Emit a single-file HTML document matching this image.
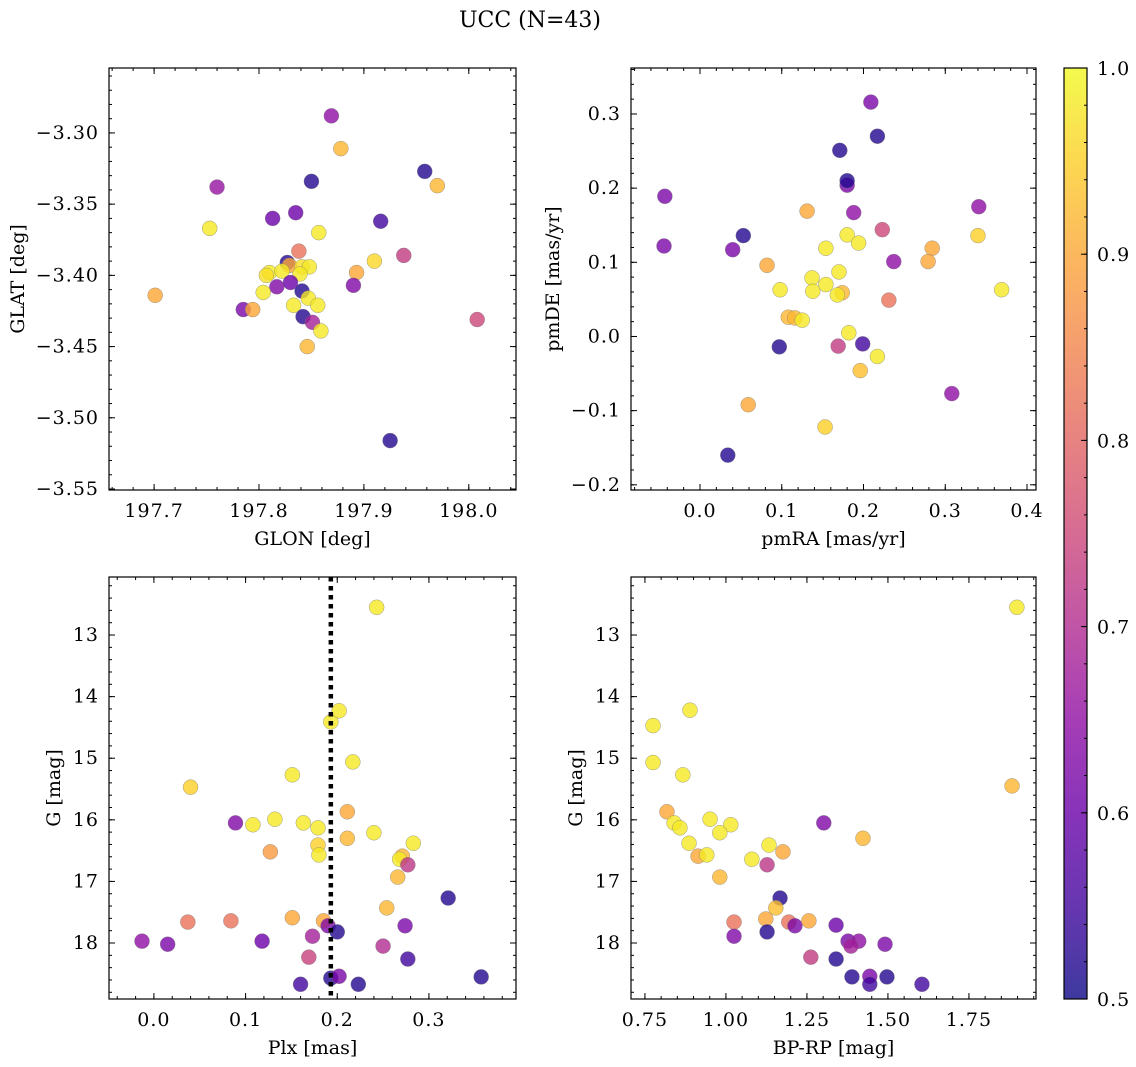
<!DOCTYPE html>
<html><head><meta charset="utf-8">
<style>
html,body{margin:0;padding:0;background:#fff;}
svg{display:block;font-family:"DejaVu Serif","Liberation Serif",serif;}
</style></head>
<body>
<svg id="fig" width="1136" height="1067" viewBox="0 0 1136 1067" xmlns="http://www.w3.org/2000/svg">
<text x="530" y="27" font-size="22" text-anchor="middle">UCC (N=43)</text>
<defs>
<linearGradient id="plasma" x1="0" y1="1" x2="0" y2="0">
<stop offset="0" stop-color="#0d0887"/><stop offset="0.1" stop-color="#41049d"/><stop offset="0.2" stop-color="#6a00a8"/><stop offset="0.3" stop-color="#8f0da4"/><stop offset="0.4" stop-color="#b12a90"/><stop offset="0.5" stop-color="#cc4778"/><stop offset="0.6" stop-color="#e16462"/><stop offset="0.7" stop-color="#f2844b"/><stop offset="0.8" stop-color="#fca636"/><stop offset="0.9" stop-color="#fcce25"/><stop offset="1" stop-color="#f0f921"/>
</linearGradient>
</defs>
<g id="layer"></g>
</svg>
<script>
// ---- data ----
const glon=[197.838,197.827,197.829,197.810,197.807,197.822,197.841,197.848,197.839,197.910,197.893,197.890,197.817,197.830,197.804,197.841,197.847,197.856,197.833,197.785,197.794,197.842,197.851,197.859,197.846,197.869,197.878,197.760,197.850,197.958,197.970,197.753,197.813,197.835,197.916,197.857,197.938,197.701,198.008,197.925];
const glat=[-3.383,-3.391,-3.393,-3.398,-3.400,-3.397,-3.394,-3.394,-3.399,-3.390,-3.398,-3.407,-3.408,-3.405,-3.412,-3.411,-3.416,-3.421,-3.421,-3.424,-3.424,-3.429,-3.433,-3.439,-3.450,-3.288,-3.311,-3.338,-3.334,-3.327,-3.337,-3.367,-3.360,-3.356,-3.362,-3.370,-3.386,-3.414,-3.431,-3.516];
const prob1=[.82,.52,.9,.98,.97,.98,.97,.98,.98,.96,.9,.63,.63,.6,.98,.52,.98,.98,.98,.62,.9,.52,.68,.98,.92,.65,.92,.66,.52,.52,.92,.98,.6,.6,.55,.98,.73,.9,.75,.52];
const pmra=[0.180,-0.043,0.131,0.188,0.053,0.223,0.180,0.194,0.154,-0.044,0.040,0.284,0.082,0.237,0.279,0.170,0.137,0.154,0.098,0.138,0.174,0.168,0.231,0.108,0.116,0.125,0.182,0.097,0.169,0.199,0.217,0.196,0.209,0.217,0.171,0.180,0.341,0.340,0.369,0.308,0.153,0.059,0.034];
const pmde=[0.204,0.189,0.169,0.167,0.136,0.144,0.137,0.126,0.119,0.122,0.117,0.119,0.096,0.101,0.101,0.087,0.079,0.070,0.063,0.061,0.059,0.056,0.049,0.026,0.025,0.022,0.005,-0.014,-0.013,-0.010,-0.027,-0.046,0.316,0.270,0.251,0.210,0.175,0.136,0.063,-0.077,-0.122,-0.092,-0.160];
const prob2=[.62,.62,.9,.65,.52,.75,.98,.98,.98,.62,.62,.9,.9,.65,.9,.98,.98,.98,.98,.98,.92,.98,.82,.92,.92,.98,.98,.52,.73,.55,.98,.93,.62,.52,.52,.52,.65,.95,.98,.65,.95,.9,.52];
const plx=[0.040,0.211,0.089,0.108,0.132,0.163,0.179,0.211,0.240,0.179,0.180,0.127,0.283,0.271,0.268,0.277,0.266,0.321,0.254,0.037,0.084,0.151,0.185,0.190,0.200,0.274,-0.013,0.015,0.118,0.173,0.250,0.169,0.277,0.193,0.202,0.160,0.223,0.357,0.243,0.193,0.202,0.217,0.151];
const gmag3=[15.47,15.87,16.05,16.08,15.99,16.05,16.13,16.30,16.21,16.41,16.57,16.52,16.38,16.59,16.64,16.73,16.93,17.27,17.43,17.66,17.64,17.59,17.64,17.72,17.82,17.72,17.97,18.02,17.97,17.89,18.05,18.23,18.26,18.57,18.54,18.67,18.67,18.55,12.55,14.41,14.23,15.06,15.27];
const prob3=[.95,.9,.63,.98,.98,.98,.98,.92,.98,.95,.98,.88,.98,.92,.98,.72,.92,.52,.92,.82,.82,.9,.9,.63,.52,.62,.65,.62,.6,.68,.7,.74,.55,.52,.62,.55,.52,.52,.98,.98,.98,.98,.98];
const plxLine=[0.193];
const bprp=[0.867,0.775,0.775,0.889,1.898,1.883,0.818,0.840,0.858,0.951,1.015,0.981,0.886,0.914,0.941,0.981,1.080,1.133,1.176,1.127,1.302,1.423,1.167,1.154,1.025,1.123,1.194,1.213,1.256,1.340,1.025,1.127,1.377,1.410,1.386,1.491,1.262,1.340,1.389,1.444,1.444,1.497,1.605];
const gmag4=[15.27,15.07,14.47,14.22,12.55,15.45,15.87,16.05,16.13,15.99,16.08,16.21,16.38,16.59,16.57,16.93,16.64,16.41,16.52,16.73,16.05,16.30,17.27,17.43,17.66,17.61,17.66,17.72,17.64,17.71,17.89,17.82,17.97,17.97,18.05,18.02,18.23,18.26,18.55,18.54,18.67,18.55,18.67];
const prob4=[.98,.98,.98,.98,.98,.92,.9,.98,.98,.98,.98,.98,.98,.9,.98,.92,.98,.98,.9,.72,.63,.92,.52,.93,.82,.9,.82,.62,.9,.6,.63,.52,.62,.65,.68,.62,.73,.52,.52,.62,.55,.52,.55];
const xt1=[197.7,197.8,197.9,198.0], yt1=[-3.30,-3.35,-3.40,-3.45,-3.50,-3.55];
const xt2=[0.0,0.1,0.2,0.3,0.4], yt2=[-0.2,-0.1,0.0,0.1,0.2,0.3];
const xt3=[0.0,0.1,0.2,0.3], yt3=[13,14,15,16,17,18];
const xt4=[0.75,1.00,1.25,1.50,1.75], yt4=[13,14,15,16,17,18];
const cbTicks=[0.5,0.6,0.7,0.8,0.9,1.0];

const NS="http://www.w3.org/2000/svg";
const layer=document.getElementById('layer');
const TF=19, LS=1;
const stops=[[13,8,135],[65,4,157],[106,0,168],[143,13,164],[177,42,144],[204,71,120],[225,100,98],[242,132,75],[252,166,54],[252,206,37],[240,249,33]];
function cmap(p){let t=(p-0.5)/0.5;t=Math.max(0,Math.min(1,t))*10;const i=Math.min(9,Math.floor(t)),f=t-i;const a=stops[i],b=stops[i+1];return 'rgb('+a.map((v,k)=>Math.round(v+(b[k]-v)*f)).join(',')+')';}
function mk(tag,attrs,parent){const e=document.createElementNS(NS,tag);for(const k in attrs)e.setAttribute(k,attrs[k]);(parent||layer).appendChild(e);return e;}
function fmt(v,d){const s=Math.abs(v).toFixed(d);return (v<-1e-9?'\u2212':'')+s;}

function panel(c){
  const g=mk('g',{});
  
  
  const sx=v=>c.x0+(v-c.xa)/(c.xb-c.xa)*(c.x1-c.x0);
  const sy=v=>c.y0+(v-c.ya)/(c.yb-c.ya)*(c.y1-c.y0);
  const pts=mk('g',{},g);
  
  
  for(let i=0;i<c.xs.length;i++){
    const e=mk('circle',{cx:sx(c.xs[i]),cy:sy(c.ys[i]),r:7.5,fill:cmap(c.ps[i]),'fill-opacity':0.8,stroke:'#777','stroke-width':0.5,'stroke-opacity':0.7},pts);
    
    
  }
  if(c.vline){
    const l=mk('line',{x1:sx(c.vline[0]),x2:sx(c.vline[0]),y1:c.y0,y2:c.y1,stroke:'#000','stroke-width':4.5,'stroke-dasharray':'4.5 4.5'},g);
    
    
  }
  const f=mk('rect',{x:c.x0,y:c.y0,width:c.x1-c.x0,height:c.y1-c.y0,fill:'none',stroke:'#000','stroke-width':1.2},g);
  
  
  const tk=mk('g',{stroke:'#000','stroke-width':1},g);
  function xtick(px,len){mk('line',{x1:px,x2:px,y1:c.y1,y2:c.y1-len},tk);mk('line',{x1:px,x2:px,y1:c.y0,y2:c.y0+len},tk);}
  function ytick(py,len){mk('line',{x1:c.x0,x2:c.x0+len,y1:py,y2:py},tk);mk('line',{x1:c.x1,x2:c.x1-len,y1:py,y2:py},tk);}
  const lo=Math.min(c.xa,c.xb),hi=Math.max(c.xa,c.xb);
  for(let k=Math.ceil(lo/c.xm-1e-6);k*c.xm<=hi+1e-9;k++){xtick(sx(k*c.xm),3);}
  const ylo=Math.min(c.ya,c.yb),yhi=Math.max(c.ya,c.yb);
  for(let k=Math.ceil(ylo/c.ym-1e-6);k*c.ym<=yhi+1e-9;k++){ytick(sy(k*c.ym),3);}
  c.xt.forEach(v=>{const px=sx(v);xtick(px,6);
    const t=mk('text',{x:px,y:c.y1+27,'font-size':TF,'letter-spacing':LS,'text-anchor':'middle'},g);t.textContent=fmt(v,c.xd);
    
    });
  c.yt.forEach(v=>{const py=sy(v);ytick(py,6);
    const t=mk('text',{x:c.x0-10,y:py+6,'font-size':TF,'letter-spacing':LS,'text-anchor':'end'},g);t.textContent=fmt(v,c.yd);
    
    });
  const xl=mk('text',{x:(c.x0+c.x1)/2,y:c.y1+55,'font-size':19,'text-anchor':'middle'},g);xl.textContent=c.xlab;
  
  
  const yx=c.ylx,yy=(c.y0+c.y1)/2;
  const yl=mk('text',{x:yx,y:yy,'font-size':19,'text-anchor':'middle',transform:'rotate(-90 '+yx+' '+yy+')'},g);yl.textContent=c.ylab;
  
  
}

panel({name:'panel-glon-glat',x0:109,x1:516,y0:68,y1:490,xa:197.657,xb:198.045,ya:-3.2544,yb:-3.5507,xs:glon,ys:glat,ps:prob1,xt:xt1,yt:yt1,xd:1,yd:2,xm:0.02,ym:0.01,xlab:'GLON [deg]',ylab:'GLAT [deg]',ylx:24});
panel({name:'panel-pm',x0:631,x1:1036,y0:68,y1:490,xa:-0.0844,xb:0.411,ya:0.362,yb:-0.207,xs:pmra,ys:pmde,ps:prob2,xt:xt2,yt:yt2,xd:1,yd:1,xm:0.02,ym:0.02,xlab:'pmRA [mas/yr]',ylab:'pmDE [mas/yr]',ylx:559});
panel({name:'panel-plx-g',x0:109,x1:516,y0:577,y1:999,xa:-0.049,xb:0.395,ya:12.058,yb:18.909,xs:plx,ys:gmag3,ps:prob3,xt:xt3,yt:yt3,xd:1,yd:0,xm:0.02,ym:0.2,xlab:'Plx [mas]',ylab:'G [mag]',ylx:60,vline:plxLine});
panel({name:'panel-cmd',x0:631,x1:1036,y0:577,y1:999,xa:0.707,xb:1.957,ya:12.058,yb:18.909,xs:bprp,ys:gmag4,ps:prob4,xt:xt4,yt:yt4,xd:2,yd:0,xm:0.05,ym:0.2,xlab:'BP-RP [mag]',ylab:'G [mag]',ylx:582});

(function(){
  const x0=1064,x1=1087,y0=68,y1=999;
  const g=mk('g',{});
  
  
  mk('rect',{x:x0,y:y0,width:x1-x0,height:y1-y0,fill:'url(#plasma)','fill-opacity':0.8},g);
  mk('rect',{x:x0,y:y0,width:x1-x0,height:y1-y0,fill:'none',stroke:'#000','stroke-width':1.2},g);
  const sy=v=>y1-(v-0.5)/0.5*(y1-y0);
  for(let k=25;k<=50;k++){const py=sy(k*0.02);mk('line',{x1:x1,x2:x1-3,y1:py,y2:py,stroke:'#000'},g);}
  cbTicks.forEach(v=>{const py=sy(v);mk('line',{x1:x1,x2:x1-6,y1:py,y2:py,stroke:'#000'},g);
    const t=mk('text',{x:x1+10,y:py+7,'font-size':TF,'letter-spacing':LS},g);t.textContent=v.toFixed(1);
    
    });
})();
</script>
</body></html>
